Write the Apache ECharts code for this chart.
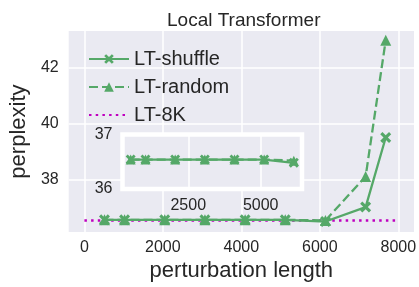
<!DOCTYPE html>
<html>
<head>
<meta charset="utf-8">
<script src="https://cdn.jsdelivr.net/npm/echarts@6/dist/echarts.min.js"></script>
<style>html,body{margin:0;padding:0;background:#fff}#c{width:419px;height:287px}</style>
</head>
<body>
<div id="c"></div>
<script>
const lengths = [512, 1024, 2048, 3072, 4096, 5120, 6144, 7168, 7680];
const shuffle = [36.54, 36.54, 36.54, 36.54, 36.54, 36.54, 36.48, 37.0, 39.5];
const random  = [36.54, 36.54, 36.54, 36.54, 36.54, 36.54, 36.52, 38.1, 43.0];
const lt8kX = [0, 8000];
const lt8kY = [36.52, 36.52];
const mainXTicks = [0, 2000, 4000, 6000, 8000];
const mainYTicks = [38, 40, 42];
const insetCount = 7;
const insetXTicks = [2500, 5000];
const insetYTicks = [36, 37];

const GREEN = '#55a868', MAG = '#bf00bf', BG = '#eaeaf2', TXT = '#262626';
const FONT = 'Liberation Sans';
const XPATH = 'path://M0,2 L2,0 L5,3 L8,0 L10,2 L7,5 L10,8 L8,10 L5,7 L2,10 L0,8 L3,5 Z';
const zip = (xs, ys) => xs.map((x, i) => [x, ys[i]]);
const plain = v => String(v);

const chart = echarts.init(document.getElementById('c'), null, {renderer: 'canvas'});
const tickLabel = {color: TXT, fontFamily: FONT, fontSize: 16, formatter: plain};
chart.setOption({
  animation: false,
  textStyle: {fontFamily: FONT},
  title: {text: 'Local Transformer', left: 162, top: 6,
    textStyle: {color: TXT, fontFamily: FONT, fontSize: 19, fontWeight: 'normal'}},
  legend: {
    orient: 'vertical', left: 83, top: 44, itemWidth: 40, itemHeight: 12, itemGap: 8,
    itemTextGap: 15,
    data: ['LT-shuffle', 'LT-random', {name: 'LT-8K', itemStyle: {opacity: 0}}],
    textStyle: {color: TXT, fontFamily: FONT, fontSize: 20, lineHeight: 20}
  },
  grid: [
    {left: 67, right: 5, top: 31, bottom: 49, show: true, backgroundColor: BG, borderWidth: 0, containLabel: false},
    {left: 122.5, top: 134.5, width: 179.5, height: 54.5, show: true, backgroundColor: BG,
     borderColor: '#ffffff', borderWidth: 4.5, z: 5}
  ],
  xAxis: [
    {type: 'value', gridIndex: 0, min: -400, max: 8400,
     name: 'perturbation length', nameLocation: 'middle', nameGap: 27,
     nameTextStyle: {color: TXT, fontFamily: FONT, fontSize: 22},
     axisLine: {show: false}, axisTick: {show: false, customValues: mainXTicks},
     axisLabel: Object.assign({margin: 7, customValues: mainXTicks}, tickLabel),
     splitLine: {show: true, lineStyle: {color: '#fff', width: 1.5}}},
    {type: 'value', gridIndex: 1, min: 230, max: 6426, z: 6,
     axisLine: {show: false}, axisTick: {show: false, customValues: insetXTicks},
     axisLabel: Object.assign({margin: 9, customValues: insetXTicks}, tickLabel),
     splitLine: {show: true, lineStyle: {color: '#fff', width: 1.5}}}
  ],
  yAxis: [
    {type: 'value', gridIndex: 0, min: 36.1, max: 43.33,
     name: 'perplexity', nameLocation: 'middle', nameGap: 34, nameRotate: 90,
     nameTextStyle: {color: TXT, fontFamily: FONT, fontSize: 22},
     axisLine: {show: false}, axisTick: {show: false, customValues: mainYTicks},
     axisLabel: Object.assign({margin: 10, customValues: mainYTicks}, tickLabel),
     splitLine: {show: true, lineStyle: {color: '#fff', width: 1.5}}},
    {type: 'value', gridIndex: 1, min: 36, max: 37, z: 6,
     axisLine: {show: false}, axisTick: {show: false, customValues: insetYTicks},
     axisLabel: Object.assign({margin: 10, customValues: insetYTicks}, tickLabel),
     splitLine: {show: false}}
  ],
  series: [
    {name: 'LT-8K', type: 'line', xAxisIndex: 0, yAxisIndex: 0, data: zip(lt8kX, lt8kY),
     symbol: 'none', color: MAG, itemStyle: {color: MAG},
     lineStyle: {color: MAG, width: 2.5, type: [2.5, 4.2]}, z: 2},
    {name: 'LT-random', type: 'line', xAxisIndex: 0, yAxisIndex: 0, data: zip(lengths, random),
     symbol: 'triangle', symbolSize: 11, color: GREEN,
     itemStyle: {color: GREEN}, lineStyle: {color: GREEN, width: 2.3, type: [9, 4]}, z: 3},
    {name: 'LT-shuffle', type: 'line', xAxisIndex: 0, yAxisIndex: 0, data: zip(lengths, shuffle),
     symbol: XPATH, symbolSize: 11, color: GREEN,
     itemStyle: {color: GREEN}, lineStyle: {color: GREEN, width: 2.3}, z: 4},
    {name: 'LT-random', type: 'line', xAxisIndex: 1, yAxisIndex: 1,
     data: zip(lengths.slice(0, insetCount), random.slice(0, insetCount)),
     symbol: 'triangle', symbolSize: 10, color: GREEN,
     itemStyle: {color: GREEN}, lineStyle: {color: GREEN, width: 2.3, type: [9, 4]}, z: 7},
    {name: 'LT-shuffle', type: 'line', xAxisIndex: 1, yAxisIndex: 1,
     data: zip(lengths.slice(0, insetCount), shuffle.slice(0, insetCount)),
     symbol: XPATH, symbolSize: 10, color: GREEN,
     itemStyle: {color: GREEN}, lineStyle: {color: GREEN, width: 2.3}, z: 8}
  ]
});
</script>
</body>
</html>
